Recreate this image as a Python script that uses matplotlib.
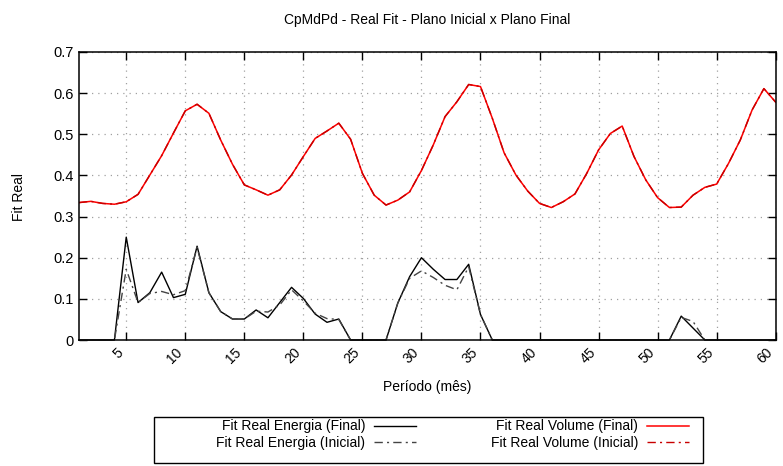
import matplotlib
matplotlib.use("Agg")
import matplotlib.pyplot as plt
from matplotlib.patches import Rectangle

plt.rcParams['font.family'] = ['Liberation Sans', 'DejaVu Sans']

# dados
periodo = list(range(1, 61))

volume_final = [0.334, 0.337, 0.332, 0.330, 0.336, 0.354, 0.401, 0.448, 0.503, 0.557,
                0.573, 0.551, 0.486, 0.427, 0.377, 0.365, 0.352, 0.365, 0.401, 0.446,
                0.490, 0.508, 0.527, 0.488, 0.405, 0.352, 0.328, 0.340, 0.360, 0.412,
                0.474, 0.543, 0.579, 0.621, 0.616, 0.539, 0.455, 0.401, 0.362, 0.332,
                0.322, 0.336, 0.355, 0.405, 0.462, 0.502, 0.520, 0.446, 0.389, 0.346,
                0.322, 0.323, 0.352, 0.371, 0.379, 0.429, 0.486, 0.559, 0.611, 0.578]

volume_inicial = [0.334, 0.337, 0.332, 0.330, 0.336, 0.354, 0.401, 0.448, 0.503, 0.557,
                  0.573, 0.551, 0.486, 0.427, 0.377, 0.365, 0.352, 0.365, 0.401, 0.446,
                  0.490, 0.508, 0.527, 0.488, 0.405, 0.352, 0.328, 0.340, 0.360, 0.412,
                  0.474, 0.543, 0.579, 0.621, 0.616, 0.539, 0.455, 0.401, 0.362, 0.332,
                  0.322, 0.336, 0.355, 0.405, 0.462, 0.502, 0.520, 0.446, 0.389, 0.346,
                  0.322, 0.323, 0.352, 0.371, 0.379, 0.429, 0.486, 0.559, 0.611, 0.578]

energia_final = [0, 0, 0, 0, 0.250, 0.091, 0.115, 0.165, 0.103, 0.111,
                 0.228, 0.115, 0.069, 0.051, 0.051, 0.073, 0.054, 0.091, 0.128, 0.101,
                 0.063, 0.043, 0.051, 0, 0, 0, 0, 0.090, 0.154, 0.200,
                 0.172, 0.147, 0.147, 0.184, 0.062, 0, 0, 0, 0, 0,
                 0, 0, 0, 0, 0, 0, 0, 0, 0, 0,
                 0, 0.058, 0.029, 0, 0, 0, 0, 0, 0, 0]

energia_inicial = [0, 0, 0, 0, 0.172, 0.091, 0.113, 0.118, 0.110, 0.120,
                   0.225, 0.115, 0.069, 0.051, 0.051, 0.070, 0.068, 0.085, 0.122, 0.095,
                   0.065, 0.052, 0.050, 0, 0, 0, 0, 0.090, 0.150, 0.168,
                   0.152, 0.133, 0.122, 0.178, 0.062, 0, 0, 0, 0, 0,
                   0, 0, 0, 0, 0, 0, 0, 0, 0, 0,
                   0, 0.055, 0.045, 0, 0, 0, 0, 0, 0, 0]

xticks = list(range(5, 61, 5))
yticks = [0, 0.1, 0.2, 0.3, 0.4, 0.5, 0.6, 0.7]
ytick_labels = ['0', '0.1', '0.2', '0.3', '0.4', '0.5', '0.6', '0.7']

W, H = 783, 466
fig = plt.figure(figsize=(W / 100, H / 100), dpi=100)
ax = fig.add_axes([79 / W, 1 - 340 / H, (775.7 - 79) / W, (340 - 52) / H])

dashdot = (0, (6, 3, 1.5, 3))
l1, = ax.plot(periodo, energia_final, color='black', lw=1.0, clip_on=False)
l2, = ax.plot(periodo, energia_inicial, color='#444444', lw=1.0, linestyle=dashdot, clip_on=False)
l3, = ax.plot(periodo, volume_final, color='#ff0000', lw=1.1)
l4, = ax.plot(periodo, volume_inicial, color='#c80000', lw=1.0, linestyle=dashdot)

ax.set_xlim(1, 60)
ax.set_ylim(0, 0.7)
ax.set_xticks(xticks)
ax.set_xticklabels([str(t) for t in xticks], rotation=45, ha='right', fontsize=10)
ax.set_yticks(yticks)
ax.set_yticklabels(ytick_labels, fontsize=10.5)
ax.tick_params(direction='in', length=6, width=1, top=True, right=True, pad=4)
ax.grid(True, color='#a0a0a0', linestyle=(0, (1, 4)), lw=0.9)
for s in ax.spines.values():
    s.set_linewidth(1.1)

fig.text(427 / W, 1 - 20 / H, 'CpMdPd - Real Fit - Plano Inicial x Plano Final',
         ha='center', va='center', fontsize=10)
fig.text(427 / W, 1 - 387 / H, 'Período (mês)', ha='center', va='center', fontsize=10)
fig.text(19 / W, 1 - 197 / H, 'Fit Real', ha='center', va='center', rotation=90, fontsize=10)

leg = fig.legend([l1, l2, l3, l4],
                 ['Fit Real Energia (Final)', 'Fit Real Energia (Inicial)',
                  'Fit Real Volume (Final)', 'Fit Real Volume (Inicial)'],
                 ncol=2, markerfirst=False, frameon=False, fontsize=10,
                 loc='center right', bbox_to_anchor=(696 / W, 1 - 434.5 / H),
                 borderpad=0, handlelength=3, handletextpad=0.65,
                 columnspacing=5.4, labelspacing=0.15)

fig.patches.append(Rectangle((153.6 / W, 1 - 463 / H), (703 - 153.6) / W, (463 - 416.5) / H,
                             transform=fig.transFigure, fill=False, edgecolor='black', lw=1.0))

fig.savefig('out.png', dpi=100)
